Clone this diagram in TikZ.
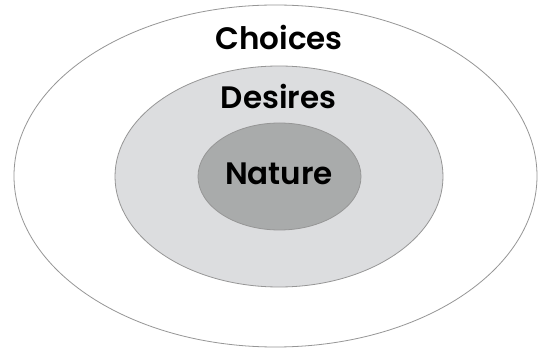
\documentclass[tikz,border=0pt]{standalone}
\usepackage{fontspec}
\setmainfont{Poppins}[BoldFont={Poppins SemiBold}]
\usepackage{tikz}
\usepackage{xcolor}
\usetikzlibrary{positioning,calc}

\definecolor{ringline}{RGB}{150,150,150}
\definecolor{desirefill}{RGB}{220,221,223}
\definecolor{naturefill}{RGB}{169,171,171}

\tikzset{
  ring/.style={draw=ringline, line width=0.8pt},
  label/.style={font=\fontsize{31}{36}\selectfont\bfseries, text=black}
}

\begin{document}
\begin{tikzpicture}[x=1pt,y=-1pt]
            \useasboundingbox (0,0) rectangle (539,350);
            \fill[white] (0,0) rectangle (539,350);

            \draw[ring, fill=white] (275.5,176) ellipse[x radius=261.5, y radius=171];
            \draw[ring, fill=desirefill] (279,176.5) ellipse[x radius=164, y radius=110.5];
            \draw[ring, fill=naturefill] (279.5,176.5) ellipse[x radius=81.5, y radius=53.5];

            \node[label] (choices) at (279,37) {Choices};
            \node[label] (desires) at (278.5,96) {Desires};
            \node[label] (nature) at (279,174) {Nature};
        \end{tikzpicture}
\end{document}
